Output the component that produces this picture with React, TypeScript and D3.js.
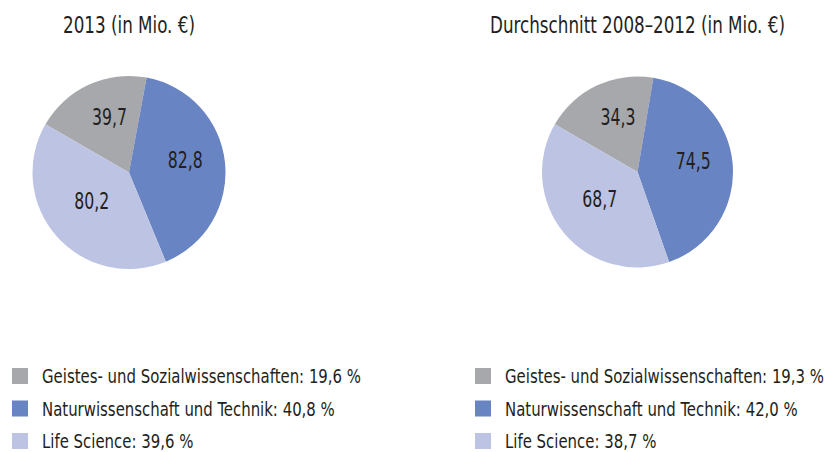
import React from "react";
import * as d3 from "d3";

const categories = [
  "Geistes- und Sozialwissenschaften",
  "Naturwissenschaft und Technik",
  "Life Science",
];
const colors = ["#a7a8ac", "#6984c2", "#bdc4e3"];
const values2013 = [39.7, 82.8, 80.2];
const valuesAvg = [34.3, 74.5, 68.7];
const shares2013 = ["19,6", "40,8", "39,6"];
const sharesAvg = ["19,3", "42,0", "38,7"];
const titles = ["2013 (in Mio. €)", "Durchschnitt 2008–2012 (in Mio. €)"];

const FONT = "'DejaVu Sans Condensed', 'Liberation Sans Narrow', sans-serif";
const TEXT_COLOR = "#231f20";
const fmt = (v: number) => v.toFixed(1).replace(".", ",");

function CText({
  x, y, sx, size, anchor = "start", children,
}: { x: number; y: number; sx: number; size: number; anchor?: string; children: React.ReactNode }) {
  return (
    <g transform={`translate(${x},${y}) scale(${sx},1)`}>
      <text x={0} y={0} textAnchor={anchor} fontSize={size} fill={TEXT_COLOR} fontFamily={FONT}>
        {children}
      </text>
    </g>
  );
}

function Pie({ cx, cy, r, values, title }: { cx: number; cy: number; r: number; values: number[]; title: string }) {
  const start = (-60 * Math.PI) / 180;
  const pie = d3.pie<number>().sort(null).startAngle(start).endAngle(start + 2 * Math.PI);
  const arcs = pie(values);
  const arc = d3.arc<d3.PieArcDatum<number>>().innerRadius(0).outerRadius(r);
  const lr = r * 0.555;
  const labelArc = d3.arc<d3.PieArcDatum<number>>().innerRadius(lr).outerRadius(lr);
  return (
    <g>
      <CText x={cx} y={33} sx={0.81} size={23} anchor="middle">
        {title}
      </CText>
      <g transform={`translate(${cx},${cy})`}>
        {arcs.map((a, i) => (
          <path key={i} d={arc(a) || ""} fill={colors[i]} />
        ))}
        <g transform="translate(3,-7)">
          {arcs.map((a, i) => {
            const [x, y] = labelArc.centroid(a);
            return (
              <CText key={i} x={x} y={y + 8.4} sx={0.76} size={23} anchor="middle">
                {fmt(values[i])}
              </CText>
            );
          })}
        </g>
      </g>
    </g>
  );
}

function Legend({ x, y, shares }: { x: number; y: number; shares: string[] }) {
  return (
    <g>
      {categories.map((c, i) => (
        <g key={i} transform={`translate(${x},${y + i * 32.5})`}>
          <rect x={0} y={0} width={16} height={16} fill={colors[i]} />
          <CText x={30} y={15} sx={0.83} size={20}>
            {`${c}: ${shares[i]} %`}
          </CText>
        </g>
      ))}
    </g>
  );
}

export default function App() {
  return (
    <svg width={829} height={452} style={{ position: "absolute", left: 0, top: 0, background: "#fff" }}>
      <Pie cx={129} cy={172.5} r={96.5} values={values2013} title={titles[0]} />
      <Pie cx={637.5} cy={172} r={95.5} values={valuesAvg} title={titles[1]} />
      <Legend x={12} y={368} shares={shares2013} />
      <Legend x={475} y={368} shares={sharesAvg} />
    </svg>
  );
}
